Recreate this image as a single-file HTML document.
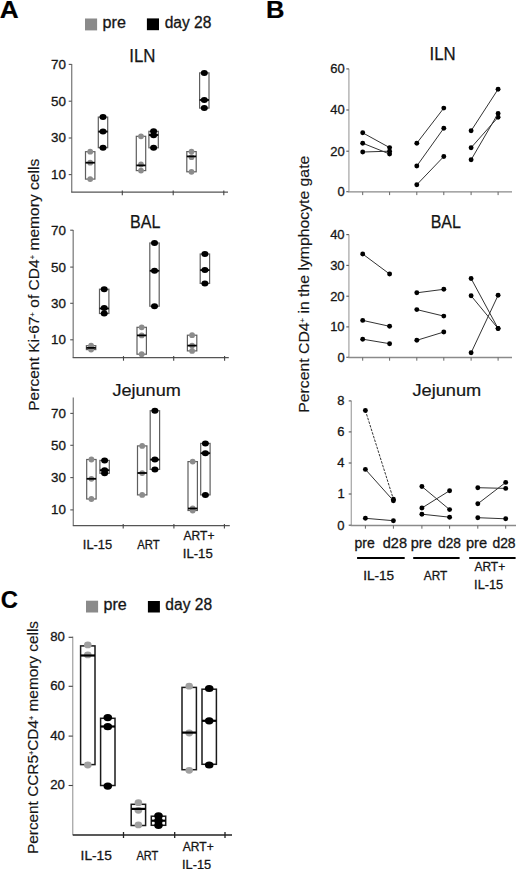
<!DOCTYPE html>
<html><head><meta charset="utf-8"><style>
html,body{margin:0;padding:0;background:#fff;}
svg{display:block;font-family:"Liberation Sans", sans-serif;}
</style></head><body>
<svg width="520" height="869" viewBox="0 0 520 869">
<rect width="520" height="869" fill="#fff"/>
<text x="-0.35" y="17.6" font-size="23.5" font-weight="bold" fill="#000" stroke="#000" stroke-width="0.2" text-anchor="start" textLength="18.94" lengthAdjust="spacingAndGlyphs" >A</text>
<rect x="85" y="18.5" width="12.1" height="11.9" fill="#8a8a8a"/>
<text x="102.56" y="27.5" font-size="15.8" font-weight="normal" fill="#151515" stroke="#151515" stroke-width="0.3" text-anchor="start" textLength="23.36" lengthAdjust="spacingAndGlyphs" >pre</text>
<rect x="146.9" y="18.4" width="12.1" height="11.8" fill="#000"/>
<text x="164.65" y="27.5" font-size="15.8" font-weight="normal" fill="#151515" stroke="#151515" stroke-width="0.3" text-anchor="start" textLength="46.73" lengthAdjust="spacingAndGlyphs" >day 28</text>
<text x="129.24" y="62.3" font-size="17.7" font-weight="normal" fill="#151515" stroke="#151515" stroke-width="0.25" text-anchor="start" textLength="26.23" lengthAdjust="spacingAndGlyphs" >ILN</text>
<line x1="71.7" y1="64" x2="71.7" y2="192.2" stroke="#858585" stroke-width="1.35" />
<line x1="68.7" y1="64.4" x2="71.7" y2="64.4" stroke="#555" stroke-width="1.1" />
<text x="51.12" y="68.82" font-size="13.4" font-weight="normal" fill="#151515" stroke="#151515" stroke-width="0.3" text-anchor="start" >70</text>
<line x1="68.7" y1="101.2" x2="71.7" y2="101.2" stroke="#555" stroke-width="1.1" />
<text x="51.12" y="105.62" font-size="13.4" font-weight="normal" fill="#151515" stroke="#151515" stroke-width="0.3" text-anchor="start" >50</text>
<line x1="68.7" y1="138" x2="71.7" y2="138" stroke="#555" stroke-width="1.1" />
<text x="51.12" y="142.42" font-size="13.4" font-weight="normal" fill="#151515" stroke="#151515" stroke-width="0.3" text-anchor="start" >30</text>
<line x1="68.7" y1="174.6" x2="71.7" y2="174.6" stroke="#555" stroke-width="1.1" />
<text x="51.12" y="179.02" font-size="13.4" font-weight="normal" fill="#151515" stroke="#151515" stroke-width="0.3" text-anchor="start" >10</text>
<line x1="71.2" y1="192.2" x2="228" y2="192.2" stroke="#555" stroke-width="1.3" />
<line x1="122.3" y1="190.6" x2="122.3" y2="195.2" stroke="#444" stroke-width="1.1" />
<line x1="173.2" y1="190.6" x2="173.2" y2="195.2" stroke="#444" stroke-width="1.1" />
<line x1="223.8" y1="190.6" x2="223.8" y2="195.2" stroke="#444" stroke-width="1.1" />
<rect x="85.5" y="151.7" width="9.4" height="27.400000000000006" fill="none" stroke="#5e5e5e" stroke-width="1.2"/>
<ellipse cx="90.2" cy="151.7" rx="2.9" ry="2.9" fill="#8c8c8c"/>
<ellipse cx="90.2" cy="162.7" rx="2.9" ry="2.9" fill="#8c8c8c"/>
<ellipse cx="90.2" cy="179.1" rx="2.9" ry="2.9" fill="#8c8c8c"/>
<line x1="85.5" y1="162.7" x2="94.9" y2="162.7" stroke="#000" stroke-width="1.8" />
<rect x="98.3" y="117.1" width="9.4" height="30.599999999999994" fill="none" stroke="#5e5e5e" stroke-width="1.2"/>
<ellipse cx="103" cy="117.1" rx="3.5" ry="3.0" fill="#000"/>
<ellipse cx="103" cy="131.6" rx="3.5" ry="3.0" fill="#000"/>
<ellipse cx="103" cy="147.7" rx="3.5" ry="3.0" fill="#000"/>
<line x1="98.3" y1="131.6" x2="107.7" y2="131.6" stroke="#000" stroke-width="1.8" />
<rect x="136.3" y="136.3" width="9.4" height="34.29999999999998" fill="none" stroke="#5e5e5e" stroke-width="1.2"/>
<ellipse cx="141" cy="136.3" rx="2.9" ry="2.9" fill="#8c8c8c"/>
<ellipse cx="141" cy="164.5" rx="2.9" ry="2.9" fill="#8c8c8c"/>
<ellipse cx="141" cy="170.6" rx="2.9" ry="2.9" fill="#8c8c8c"/>
<line x1="136.3" y1="165.4" x2="145.7" y2="165.4" stroke="#000" stroke-width="1.8" />
<rect x="148.9" y="131.3" width="9.4" height="16.5" fill="none" stroke="#5e5e5e" stroke-width="1.2"/>
<ellipse cx="153.6" cy="131.3" rx="3.5" ry="3.0" fill="#000"/>
<ellipse cx="153.6" cy="135.3" rx="3.5" ry="3.0" fill="#000"/>
<ellipse cx="153.6" cy="147.8" rx="3.5" ry="3.0" fill="#000"/>
<line x1="148.9" y1="135" x2="158.29999999999998" y2="135" stroke="#000" stroke-width="1.8" />
<rect x="186.8" y="151.6" width="9.4" height="20.200000000000017" fill="none" stroke="#5e5e5e" stroke-width="1.2"/>
<ellipse cx="191.5" cy="151.6" rx="2.9" ry="2.9" fill="#8c8c8c"/>
<ellipse cx="191.5" cy="157.2" rx="2.9" ry="2.9" fill="#8c8c8c"/>
<ellipse cx="191.5" cy="171.8" rx="2.9" ry="2.9" fill="#8c8c8c"/>
<line x1="186.8" y1="156.4" x2="196.2" y2="156.4" stroke="#000" stroke-width="1.8" />
<rect x="199.60000000000002" y="72.9" width="9.4" height="35.19999999999999" fill="none" stroke="#5e5e5e" stroke-width="1.2"/>
<ellipse cx="204.3" cy="72.9" rx="3.5" ry="3.0" fill="#000"/>
<ellipse cx="204.3" cy="100" rx="3.5" ry="3.0" fill="#000"/>
<ellipse cx="204.3" cy="108.1" rx="3.5" ry="3.0" fill="#000"/>
<line x1="199.60000000000002" y1="100" x2="209.0" y2="100" stroke="#000" stroke-width="1.8" />
<text x="129.98" y="228.3" font-size="17.7" font-weight="normal" fill="#151515" stroke="#151515" stroke-width="0.25" text-anchor="start" textLength="30.46" lengthAdjust="spacingAndGlyphs" >BAL</text>
<line x1="73.2" y1="230" x2="73.2" y2="357.7" stroke="#858585" stroke-width="1.35" />
<line x1="70.2" y1="230.2" x2="73.2" y2="230.2" stroke="#555" stroke-width="1.1" />
<text x="51.12" y="234.62" font-size="13.4" font-weight="normal" fill="#151515" stroke="#151515" stroke-width="0.3" text-anchor="start" >70</text>
<line x1="70.2" y1="267.1" x2="73.2" y2="267.1" stroke="#555" stroke-width="1.1" />
<text x="51.12" y="271.52" font-size="13.4" font-weight="normal" fill="#151515" stroke="#151515" stroke-width="0.3" text-anchor="start" >50</text>
<line x1="70.2" y1="303.3" x2="73.2" y2="303.3" stroke="#555" stroke-width="1.1" />
<text x="51.12" y="307.72" font-size="13.4" font-weight="normal" fill="#151515" stroke="#151515" stroke-width="0.3" text-anchor="start" >30</text>
<line x1="70.2" y1="339.8" x2="73.2" y2="339.8" stroke="#555" stroke-width="1.1" />
<text x="51.12" y="344.22" font-size="13.4" font-weight="normal" fill="#151515" stroke="#151515" stroke-width="0.3" text-anchor="start" >10</text>
<line x1="72.7" y1="357.7" x2="228.8" y2="357.7" stroke="#555" stroke-width="1.3" />
<line x1="123.5" y1="356.09999999999997" x2="123.5" y2="360.7" stroke="#444" stroke-width="1.1" />
<line x1="173.7" y1="356.09999999999997" x2="173.7" y2="360.7" stroke="#444" stroke-width="1.1" />
<line x1="224.6" y1="356.09999999999997" x2="224.6" y2="360.7" stroke="#444" stroke-width="1.1" />
<rect x="86.39999999999999" y="345.7" width="9.4" height="3.900000000000034" fill="none" stroke="#5e5e5e" stroke-width="1.2"/>
<ellipse cx="91.1" cy="345.7" rx="2.9" ry="2.9" fill="#8c8c8c"/>
<ellipse cx="91.1" cy="347.9" rx="2.9" ry="2.9" fill="#8c8c8c"/>
<ellipse cx="91.1" cy="349.6" rx="2.9" ry="2.9" fill="#8c8c8c"/>
<line x1="86.39999999999999" y1="347.9" x2="95.8" y2="347.9" stroke="#000" stroke-width="1.8" />
<rect x="99.5" y="289.2" width="9.4" height="24.30000000000001" fill="none" stroke="#5e5e5e" stroke-width="1.2"/>
<ellipse cx="104.2" cy="289.2" rx="3.5" ry="3.0" fill="#000"/>
<ellipse cx="104.2" cy="308" rx="3.5" ry="3.0" fill="#000"/>
<ellipse cx="104.2" cy="313.5" rx="3.5" ry="3.0" fill="#000"/>
<line x1="99.5" y1="308.5" x2="108.9" y2="308.5" stroke="#000" stroke-width="1.8" />
<rect x="137.0" y="327.3" width="9.4" height="26.899999999999977" fill="none" stroke="#5e5e5e" stroke-width="1.2"/>
<ellipse cx="141.7" cy="327.3" rx="2.9" ry="2.9" fill="#8c8c8c"/>
<ellipse cx="141.7" cy="335.4" rx="2.9" ry="2.9" fill="#8c8c8c"/>
<ellipse cx="141.7" cy="354.2" rx="2.9" ry="2.9" fill="#8c8c8c"/>
<line x1="137.0" y1="335.4" x2="146.39999999999998" y2="335.4" stroke="#000" stroke-width="1.8" />
<rect x="149.8" y="243" width="9.4" height="63.19999999999999" fill="none" stroke="#5e5e5e" stroke-width="1.2"/>
<ellipse cx="154.5" cy="243" rx="3.5" ry="3.0" fill="#000"/>
<ellipse cx="154.5" cy="270.8" rx="3.5" ry="3.0" fill="#000"/>
<ellipse cx="154.5" cy="306.2" rx="3.5" ry="3.0" fill="#000"/>
<line x1="149.8" y1="270.8" x2="159.2" y2="270.8" stroke="#000" stroke-width="1.8" />
<rect x="187.4" y="335.2" width="9.4" height="15.699999999999989" fill="none" stroke="#5e5e5e" stroke-width="1.2"/>
<ellipse cx="192.1" cy="335.2" rx="2.9" ry="2.9" fill="#8c8c8c"/>
<ellipse cx="192.1" cy="345.6" rx="2.9" ry="2.9" fill="#8c8c8c"/>
<ellipse cx="192.1" cy="350.9" rx="2.9" ry="2.9" fill="#8c8c8c"/>
<line x1="187.4" y1="345.6" x2="196.79999999999998" y2="345.6" stroke="#000" stroke-width="1.8" />
<rect x="200.20000000000002" y="254" width="9.4" height="29.399999999999977" fill="none" stroke="#5e5e5e" stroke-width="1.2"/>
<ellipse cx="204.9" cy="254" rx="3.5" ry="3.0" fill="#000"/>
<ellipse cx="204.9" cy="270.1" rx="3.5" ry="3.0" fill="#000"/>
<ellipse cx="204.9" cy="283.4" rx="3.5" ry="3.0" fill="#000"/>
<line x1="200.20000000000002" y1="270.1" x2="209.6" y2="270.1" stroke="#000" stroke-width="1.8" />
<text x="112.42" y="396.2" font-size="16.6" font-weight="normal" fill="#151515" stroke="#151515" stroke-width="0.2" text-anchor="start" textLength="68.38" lengthAdjust="spacingAndGlyphs" >Jejunum</text>
<line x1="73.3" y1="397.4" x2="73.3" y2="525.6" stroke="#858585" stroke-width="1.35" />
<line x1="70.3" y1="413.4" x2="73.3" y2="413.4" stroke="#555" stroke-width="1.1" />
<text x="51.12" y="417.82" font-size="13.4" font-weight="normal" fill="#151515" stroke="#151515" stroke-width="0.3" text-anchor="start" >70</text>
<line x1="70.3" y1="445.3" x2="73.3" y2="445.3" stroke="#555" stroke-width="1.1" />
<text x="51.12" y="449.72" font-size="13.4" font-weight="normal" fill="#151515" stroke="#151515" stroke-width="0.3" text-anchor="start" >50</text>
<line x1="70.3" y1="477.6" x2="73.3" y2="477.6" stroke="#555" stroke-width="1.1" />
<text x="51.12" y="482.02" font-size="13.4" font-weight="normal" fill="#151515" stroke="#151515" stroke-width="0.3" text-anchor="start" >30</text>
<line x1="70.3" y1="509.9" x2="73.3" y2="509.9" stroke="#555" stroke-width="1.1" />
<text x="51.12" y="514.32" font-size="13.4" font-weight="normal" fill="#151515" stroke="#151515" stroke-width="0.3" text-anchor="start" >10</text>
<line x1="72.8" y1="525.6" x2="229.8" y2="525.6" stroke="#555" stroke-width="1.3" />
<line x1="123.2" y1="524.0" x2="123.2" y2="528.6" stroke="#444" stroke-width="1.1" />
<line x1="173.9" y1="524.0" x2="173.9" y2="528.6" stroke="#444" stroke-width="1.1" />
<line x1="224.4" y1="524.0" x2="224.4" y2="528.6" stroke="#444" stroke-width="1.1" />
<rect x="86.7" y="459.5" width="9.4" height="39.5" fill="none" stroke="#5e5e5e" stroke-width="1.2"/>
<ellipse cx="91.4" cy="459.5" rx="2.9" ry="2.9" fill="#8c8c8c"/>
<ellipse cx="91.4" cy="478.8" rx="2.9" ry="2.9" fill="#8c8c8c"/>
<ellipse cx="91.4" cy="499.0" rx="2.9" ry="2.9" fill="#8c8c8c"/>
<line x1="86.7" y1="478.8" x2="96.10000000000001" y2="478.8" stroke="#000" stroke-width="1.8" />
<rect x="99.89999999999999" y="460.4" width="9.4" height="12.900000000000034" fill="none" stroke="#5e5e5e" stroke-width="1.2"/>
<ellipse cx="104.6" cy="460.4" rx="3.5" ry="3.0" fill="#000"/>
<ellipse cx="104.6" cy="470.2" rx="3.5" ry="3.0" fill="#000"/>
<ellipse cx="104.6" cy="473.3" rx="3.5" ry="3.0" fill="#000"/>
<line x1="99.89999999999999" y1="470.2" x2="109.3" y2="470.2" stroke="#000" stroke-width="1.8" />
<rect x="137.5" y="445.9" width="9.4" height="49.0" fill="none" stroke="#5e5e5e" stroke-width="1.2"/>
<ellipse cx="142.2" cy="445.9" rx="2.9" ry="2.9" fill="#8c8c8c"/>
<ellipse cx="142.2" cy="473.1" rx="2.9" ry="2.9" fill="#8c8c8c"/>
<ellipse cx="142.2" cy="494.9" rx="2.9" ry="2.9" fill="#8c8c8c"/>
<line x1="137.5" y1="473" x2="146.89999999999998" y2="473" stroke="#000" stroke-width="1.8" />
<rect x="150.20000000000002" y="410.7" width="9.4" height="58.69999999999999" fill="none" stroke="#5e5e5e" stroke-width="1.2"/>
<ellipse cx="154.9" cy="410.7" rx="3.5" ry="3.0" fill="#000"/>
<ellipse cx="154.9" cy="459.6" rx="3.5" ry="3.0" fill="#000"/>
<ellipse cx="154.9" cy="469.4" rx="3.5" ry="3.0" fill="#000"/>
<line x1="150.20000000000002" y1="459.6" x2="159.6" y2="459.6" stroke="#000" stroke-width="1.8" />
<rect x="188.0" y="461.6" width="9.4" height="48.89999999999998" fill="none" stroke="#5e5e5e" stroke-width="1.2"/>
<ellipse cx="192.7" cy="461.6" rx="2.9" ry="2.9" fill="#8c8c8c"/>
<ellipse cx="192.7" cy="508.5" rx="2.9" ry="2.9" fill="#8c8c8c"/>
<ellipse cx="192.7" cy="510.5" rx="2.9" ry="2.9" fill="#8c8c8c"/>
<line x1="188.0" y1="508.5" x2="197.39999999999998" y2="508.5" stroke="#000" stroke-width="1.8" />
<rect x="200.70000000000002" y="443.4" width="9.4" height="51.5" fill="none" stroke="#5e5e5e" stroke-width="1.2"/>
<ellipse cx="205.4" cy="443.4" rx="3.5" ry="3.0" fill="#000"/>
<ellipse cx="205.4" cy="453.2" rx="3.5" ry="3.0" fill="#000"/>
<ellipse cx="205.4" cy="494.9" rx="3.5" ry="3.0" fill="#000"/>
<line x1="200.70000000000002" y1="453.2" x2="210.1" y2="453.2" stroke="#000" stroke-width="1.8" />
<text x="82.81" y="548.6" font-size="13.2" font-weight="normal" fill="#151515" stroke="#151515" stroke-width="0.3" text-anchor="start" textLength="29.43" lengthAdjust="spacingAndGlyphs" >IL-15</text>
<text x="137.28" y="548.7" font-size="13.2" font-weight="normal" fill="#151515" stroke="#151515" stroke-width="0.3" text-anchor="start" textLength="22.38" lengthAdjust="spacingAndGlyphs" >ART</text>
<text x="183.58" y="539.5" font-size="13.2" font-weight="normal" fill="#151515" stroke="#151515" stroke-width="0.3" text-anchor="start" textLength="30.91" lengthAdjust="spacingAndGlyphs" >ART+</text>
<text x="182.79" y="557.7" font-size="13.2" font-weight="normal" fill="#151515" stroke="#151515" stroke-width="0.3" text-anchor="start" textLength="29.97" lengthAdjust="spacingAndGlyphs" >IL-15</text>
<text transform="translate(38.8,410.8) rotate(-90)" x="0" y="0" font-size="15.5" fill="#151515" stroke="#151515" stroke-width="0.15" textLength="252" lengthAdjust="spacingAndGlyphs">Percent Ki-67<tspan font-size="7.5" dy="-4.2">+</tspan><tspan dy="4.2"> of CD4</tspan><tspan font-size="7.5" dy="-4.2">+</tspan><tspan dy="4.2"> memory cells</tspan></text>
<text x="266.09" y="17.9" font-size="23.5" font-weight="bold" fill="#000" stroke="#000" stroke-width="0.2" text-anchor="start" textLength="18.47" lengthAdjust="spacingAndGlyphs" >B</text>
<text x="429.55" y="59.9" font-size="18" font-weight="normal" fill="#151515" stroke="#151515" stroke-width="0.25" text-anchor="start" textLength="26.12" lengthAdjust="spacingAndGlyphs" >ILN</text>
<line x1="348.9" y1="68.7" x2="348.9" y2="191.7" stroke="#aaa" stroke-width="1.3" />
<line x1="346.29999999999995" y1="68.9" x2="348.9" y2="68.9" stroke="#555" stroke-width="1.1" />
<text x="330.35" y="73.28" font-size="13" font-weight="normal" fill="#151515" stroke="#151515" stroke-width="0.3" text-anchor="start" >60</text>
<line x1="346.29999999999995" y1="110" x2="348.9" y2="110" stroke="#555" stroke-width="1.1" />
<text x="330.35" y="114.38" font-size="13" font-weight="normal" fill="#151515" stroke="#151515" stroke-width="0.3" text-anchor="start" >40</text>
<line x1="346.29999999999995" y1="151.2" x2="348.9" y2="151.2" stroke="#555" stroke-width="1.1" />
<text x="330.35" y="155.58" font-size="13" font-weight="normal" fill="#151515" stroke="#151515" stroke-width="0.3" text-anchor="start" >20</text>
<line x1="346.29999999999995" y1="191.7" x2="348.9" y2="191.7" stroke="#555" stroke-width="1.1" />
<text x="337.58" y="196.08" font-size="13" font-weight="normal" fill="#151515" stroke="#151515" stroke-width="0.3" text-anchor="start" >0</text>
<line x1="348.29999999999995" y1="191.9" x2="512" y2="191.9" stroke="#8a8a8a" stroke-width="1.3" />
<line x1="362.7" y1="191.9" x2="362.7" y2="195.1" stroke="#666" stroke-width="1" />
<line x1="389.6" y1="191.9" x2="389.6" y2="195.1" stroke="#666" stroke-width="1" />
<line x1="416.8" y1="191.9" x2="416.8" y2="195.1" stroke="#666" stroke-width="1" />
<line x1="443.8" y1="191.9" x2="443.8" y2="195.1" stroke="#666" stroke-width="1" />
<line x1="471.1" y1="191.9" x2="471.1" y2="195.1" stroke="#666" stroke-width="1" />
<line x1="498.1" y1="191.9" x2="498.1" y2="195.1" stroke="#666" stroke-width="1" />
<line x1="362.7" y1="132.8" x2="389.6" y2="147.6" stroke="#333" stroke-width="1.0" />
<circle cx="362.7" cy="132.8" r="2.45" fill="#000"/>
<circle cx="389.6" cy="147.6" r="2.45" fill="#000"/>
<line x1="362.7" y1="143.2" x2="389.6" y2="154.0" stroke="#333" stroke-width="1.0" />
<circle cx="362.7" cy="143.2" r="2.45" fill="#000"/>
<circle cx="389.6" cy="154.0" r="2.45" fill="#000"/>
<line x1="362.7" y1="152.0" x2="389.6" y2="151.2" stroke="#333" stroke-width="1.0" />
<circle cx="362.7" cy="152.0" r="2.45" fill="#000"/>
<circle cx="389.6" cy="151.2" r="2.45" fill="#000"/>
<line x1="416.8" y1="143.2" x2="443.8" y2="108.1" stroke="#333" stroke-width="1.0" />
<circle cx="416.8" cy="143.2" r="2.45" fill="#000"/>
<circle cx="443.8" cy="108.1" r="2.45" fill="#000"/>
<line x1="416.8" y1="166" x2="443.8" y2="128.2" stroke="#333" stroke-width="1.0" />
<circle cx="416.8" cy="166" r="2.45" fill="#000"/>
<circle cx="443.8" cy="128.2" r="2.45" fill="#000"/>
<line x1="416.8" y1="184.7" x2="443.8" y2="156.5" stroke="#333" stroke-width="1.0" />
<circle cx="416.8" cy="184.7" r="2.45" fill="#000"/>
<circle cx="443.8" cy="156.5" r="2.45" fill="#000"/>
<line x1="471.1" y1="130.8" x2="498.1" y2="89.2" stroke="#333" stroke-width="1.0" />
<circle cx="471.1" cy="130.8" r="2.45" fill="#000"/>
<circle cx="498.1" cy="89.2" r="2.45" fill="#000"/>
<line x1="471.1" y1="147.7" x2="498.1" y2="117.2" stroke="#333" stroke-width="1.0" />
<circle cx="471.1" cy="147.7" r="2.45" fill="#000"/>
<circle cx="498.1" cy="117.2" r="2.45" fill="#000"/>
<line x1="471.1" y1="159.8" x2="498.1" y2="113.4" stroke="#333" stroke-width="1.0" />
<circle cx="471.1" cy="159.8" r="2.45" fill="#000"/>
<circle cx="498.1" cy="113.4" r="2.45" fill="#000"/>
<text x="430.69" y="228.1" font-size="18" font-weight="normal" fill="#151515" stroke="#151515" stroke-width="0.25" text-anchor="start" textLength="30.24" lengthAdjust="spacingAndGlyphs" >BAL</text>
<line x1="348.9" y1="234.6" x2="348.9" y2="357.5" stroke="#aaa" stroke-width="1.3" />
<line x1="346.29999999999995" y1="234.6" x2="348.9" y2="234.6" stroke="#555" stroke-width="1.1" />
<text x="330.15" y="238.98" font-size="13" font-weight="normal" fill="#151515" stroke="#151515" stroke-width="0.3" text-anchor="start" >40</text>
<line x1="346.29999999999995" y1="265.4" x2="348.9" y2="265.4" stroke="#555" stroke-width="1.1" />
<text x="330.15" y="269.78" font-size="13" font-weight="normal" fill="#151515" stroke="#151515" stroke-width="0.3" text-anchor="start" >30</text>
<line x1="346.29999999999995" y1="296.2" x2="348.9" y2="296.2" stroke="#555" stroke-width="1.1" />
<text x="330.15" y="300.58" font-size="13" font-weight="normal" fill="#151515" stroke="#151515" stroke-width="0.3" text-anchor="start" >20</text>
<line x1="346.29999999999995" y1="326.9" x2="348.9" y2="326.9" stroke="#555" stroke-width="1.1" />
<text x="330.15" y="331.28" font-size="13" font-weight="normal" fill="#151515" stroke="#151515" stroke-width="0.3" text-anchor="start" >10</text>
<line x1="346.29999999999995" y1="357.3" x2="348.9" y2="357.3" stroke="#555" stroke-width="1.1" />
<text x="337.38" y="361.68" font-size="13" font-weight="normal" fill="#151515" stroke="#151515" stroke-width="0.3" text-anchor="start" >0</text>
<line x1="348.29999999999995" y1="357.5" x2="512" y2="357.5" stroke="#8a8a8a" stroke-width="1.3" />
<line x1="362.7" y1="357.5" x2="362.7" y2="360.7" stroke="#666" stroke-width="1" />
<line x1="389.6" y1="357.5" x2="389.6" y2="360.7" stroke="#666" stroke-width="1" />
<line x1="416.8" y1="357.5" x2="416.8" y2="360.7" stroke="#666" stroke-width="1" />
<line x1="443.8" y1="357.5" x2="443.8" y2="360.7" stroke="#666" stroke-width="1" />
<line x1="471.1" y1="357.5" x2="471.1" y2="360.7" stroke="#666" stroke-width="1" />
<line x1="498.1" y1="357.5" x2="498.1" y2="360.7" stroke="#666" stroke-width="1" />
<line x1="362.7" y1="254" x2="389.6" y2="274" stroke="#333" stroke-width="1.0" />
<circle cx="362.7" cy="254" r="2.45" fill="#000"/>
<circle cx="389.6" cy="274" r="2.45" fill="#000"/>
<line x1="362.7" y1="320.4" x2="389.6" y2="326.3" stroke="#333" stroke-width="1.0" />
<circle cx="362.7" cy="320.4" r="2.45" fill="#000"/>
<circle cx="389.6" cy="326.3" r="2.45" fill="#000"/>
<line x1="362.7" y1="339.2" x2="389.6" y2="343.7" stroke="#333" stroke-width="1.0" />
<circle cx="362.7" cy="339.2" r="2.45" fill="#000"/>
<circle cx="389.6" cy="343.7" r="2.45" fill="#000"/>
<line x1="416.8" y1="292.8" x2="443.8" y2="289.3" stroke="#333" stroke-width="1.0" />
<circle cx="416.8" cy="292.8" r="2.45" fill="#000"/>
<circle cx="443.8" cy="289.3" r="2.45" fill="#000"/>
<line x1="416.8" y1="309.6" x2="443.8" y2="316.1" stroke="#333" stroke-width="1.0" />
<circle cx="416.8" cy="309.6" r="2.45" fill="#000"/>
<circle cx="443.8" cy="316.1" r="2.45" fill="#000"/>
<line x1="416.8" y1="340.3" x2="443.8" y2="332" stroke="#333" stroke-width="1.0" />
<circle cx="416.8" cy="340.3" r="2.45" fill="#000"/>
<circle cx="443.8" cy="332" r="2.45" fill="#000"/>
<line x1="471.1" y1="278.5" x2="498.1" y2="328.5" stroke="#333" stroke-width="1.0" />
<circle cx="471.1" cy="278.5" r="2.45" fill="#000"/>
<circle cx="498.1" cy="328.5" r="2.45" fill="#000"/>
<line x1="471.1" y1="295.8" x2="498.1" y2="328.5" stroke="#333" stroke-width="1.0" />
<circle cx="471.1" cy="295.8" r="2.45" fill="#000"/>
<circle cx="498.1" cy="328.5" r="2.45" fill="#000"/>
<line x1="471.1" y1="352.8" x2="498.1" y2="295.3" stroke="#333" stroke-width="1.0" />
<circle cx="471.1" cy="352.8" r="2.45" fill="#000"/>
<circle cx="498.1" cy="295.3" r="2.45" fill="#000"/>
<text x="412.42" y="396.2" font-size="16.6" font-weight="normal" fill="#151515" stroke="#151515" stroke-width="0.2" text-anchor="start" textLength="68.89" lengthAdjust="spacingAndGlyphs" >Jejunum</text>
<line x1="351.3" y1="400.7" x2="351.3" y2="525.5" stroke="#aaa" stroke-width="1.3" />
<line x1="348.7" y1="400.9" x2="351.3" y2="400.9" stroke="#555" stroke-width="1.1" />
<text x="337.33" y="405.28" font-size="13" font-weight="normal" fill="#151515" stroke="#151515" stroke-width="0.3" text-anchor="start" >8</text>
<line x1="348.7" y1="431.9" x2="351.3" y2="431.9" stroke="#555" stroke-width="1.1" />
<text x="337.34" y="436.28" font-size="13" font-weight="normal" fill="#151515" stroke="#151515" stroke-width="0.3" text-anchor="start" >6</text>
<line x1="348.7" y1="463" x2="351.3" y2="463" stroke="#555" stroke-width="1.1" />
<text x="337.15" y="467.38" font-size="13" font-weight="normal" fill="#151515" stroke="#151515" stroke-width="0.3" text-anchor="start" >4</text>
<line x1="348.7" y1="494" x2="351.3" y2="494" stroke="#555" stroke-width="1.1" />
<text x="337.4" y="498.38" font-size="13" font-weight="normal" fill="#151515" stroke="#151515" stroke-width="0.3" text-anchor="start" >1</text>
<line x1="348.7" y1="525.2" x2="351.3" y2="525.2" stroke="#555" stroke-width="1.1" />
<text x="337.28" y="529.58" font-size="13" font-weight="normal" fill="#151515" stroke="#151515" stroke-width="0.3" text-anchor="start" >0</text>
<line x1="350.7" y1="525.5" x2="516" y2="525.5" stroke="#8a8a8a" stroke-width="1.3" />
<line x1="365.4" y1="525.5" x2="365.4" y2="528.7" stroke="#666" stroke-width="1" />
<line x1="393.4" y1="525.5" x2="393.4" y2="528.7" stroke="#666" stroke-width="1" />
<line x1="421.9" y1="525.5" x2="421.9" y2="528.7" stroke="#666" stroke-width="1" />
<line x1="449.6" y1="525.5" x2="449.6" y2="528.7" stroke="#666" stroke-width="1" />
<line x1="477.8" y1="525.5" x2="477.8" y2="528.7" stroke="#666" stroke-width="1" />
<line x1="505.7" y1="525.5" x2="505.7" y2="528.7" stroke="#666" stroke-width="1" />
<line x1="365.4" y1="410.5" x2="393.4" y2="499.2" stroke="#333" stroke-width="1.0" stroke-dasharray="2.6,1.2"/>
<circle cx="365.4" cy="410.5" r="2.45" fill="#000"/>
<circle cx="393.4" cy="499.2" r="2.45" fill="#000"/>
<line x1="365.4" y1="469.4" x2="393.4" y2="500.7" stroke="#333" stroke-width="1.0" />
<circle cx="365.4" cy="469.4" r="2.45" fill="#000"/>
<circle cx="393.4" cy="500.7" r="2.45" fill="#000"/>
<line x1="365.4" y1="518.3" x2="393.4" y2="520.7" stroke="#333" stroke-width="1.0" />
<circle cx="365.4" cy="518.3" r="2.45" fill="#000"/>
<circle cx="393.4" cy="520.7" r="2.45" fill="#000"/>
<line x1="421.9" y1="486.5" x2="449.6" y2="509.6" stroke="#333" stroke-width="1.0" />
<circle cx="421.9" cy="486.5" r="2.45" fill="#000"/>
<circle cx="449.6" cy="509.6" r="2.45" fill="#000"/>
<line x1="421.9" y1="508" x2="449.6" y2="490.7" stroke="#333" stroke-width="1.0" />
<circle cx="421.9" cy="508" r="2.45" fill="#000"/>
<circle cx="449.6" cy="490.7" r="2.45" fill="#000"/>
<line x1="421.9" y1="514.2" x2="449.6" y2="517.2" stroke="#333" stroke-width="1.0" />
<circle cx="421.9" cy="514.2" r="2.45" fill="#000"/>
<circle cx="449.6" cy="517.2" r="2.45" fill="#000"/>
<line x1="477.8" y1="487.7" x2="505.7" y2="488.4" stroke="#333" stroke-width="1.0" />
<circle cx="477.8" cy="487.7" r="2.45" fill="#000"/>
<circle cx="505.7" cy="488.4" r="2.45" fill="#000"/>
<line x1="477.8" y1="503.8" x2="505.7" y2="482.4" stroke="#333" stroke-width="1.0" />
<circle cx="477.8" cy="503.8" r="2.45" fill="#000"/>
<circle cx="505.7" cy="482.4" r="2.45" fill="#000"/>
<line x1="477.8" y1="517.7" x2="505.7" y2="518.8" stroke="#333" stroke-width="1.0" />
<circle cx="477.8" cy="517.7" r="2.45" fill="#000"/>
<circle cx="505.7" cy="518.8" r="2.45" fill="#000"/>
<text x="354.5" y="548" font-size="14" font-weight="normal" fill="#151515" stroke="#151515" stroke-width="0.3" text-anchor="start" textLength="20.22" lengthAdjust="spacingAndGlyphs" >pre</text>
<text x="410.66" y="548" font-size="14" font-weight="normal" fill="#151515" stroke="#151515" stroke-width="0.3" text-anchor="start" textLength="21.09" lengthAdjust="spacingAndGlyphs" >pre</text>
<text x="465.96" y="548" font-size="14" font-weight="normal" fill="#151515" stroke="#151515" stroke-width="0.3" text-anchor="start" textLength="21.09" lengthAdjust="spacingAndGlyphs" >pre</text>
<text x="382.79" y="548" font-size="14" font-weight="normal" fill="#151515" stroke="#151515" stroke-width="0.3" text-anchor="start" textLength="24.24" lengthAdjust="spacingAndGlyphs" >d28</text>
<text x="438.02" y="548" font-size="14" font-weight="normal" fill="#151515" stroke="#151515" stroke-width="0.3" text-anchor="start" textLength="22.87" lengthAdjust="spacingAndGlyphs" >d28</text>
<text x="492.42" y="548" font-size="14" font-weight="normal" fill="#151515" stroke="#151515" stroke-width="0.3" text-anchor="start" textLength="23.19" lengthAdjust="spacingAndGlyphs" >d28</text>
<line x1="357.1" y1="558.1" x2="404.7" y2="558.1" stroke="#000" stroke-width="2" />
<line x1="413.2" y1="558.1" x2="459.6" y2="558.1" stroke="#000" stroke-width="2" />
<line x1="469.2" y1="558.1" x2="515.6" y2="558.1" stroke="#000" stroke-width="2" />
<text x="363.15" y="579.6" font-size="13.2" font-weight="normal" fill="#151515" stroke="#151515" stroke-width="0.3" text-anchor="start" textLength="30.92" lengthAdjust="spacingAndGlyphs" >IL-15</text>
<text x="423.78" y="579.7" font-size="13.2" font-weight="normal" fill="#151515" stroke="#151515" stroke-width="0.3" text-anchor="start" textLength="23.49" lengthAdjust="spacingAndGlyphs" >ART</text>
<text x="474.38" y="571" font-size="13.2" font-weight="normal" fill="#151515" stroke="#151515" stroke-width="0.3" text-anchor="start" textLength="30.81" lengthAdjust="spacingAndGlyphs" >ART+</text>
<text x="474.12" y="588.9" font-size="13.2" font-weight="normal" fill="#151515" stroke="#151515" stroke-width="0.3" text-anchor="start" textLength="29.12" lengthAdjust="spacingAndGlyphs" >IL-15</text>
<text transform="translate(309,412.7) rotate(-90)" x="0" y="0" font-size="15.5" fill="#151515" stroke="#151515" stroke-width="0.15" textLength="257" lengthAdjust="spacingAndGlyphs">Percent CD4<tspan font-size="7.5" dy="-4.2">+</tspan><tspan dy="4.2"> in the lymphocyte gate</tspan></text>
<text x="0.72" y="607.5" font-size="23" font-weight="bold" fill="#000" stroke="#000" stroke-width="0.2" text-anchor="start" textLength="17.23" lengthAdjust="spacingAndGlyphs" >C</text>
<rect x="86" y="600.7" width="12.1" height="11.8" fill="#8a8a8a"/>
<text x="103.46" y="609.7" font-size="15.8" font-weight="normal" fill="#151515" stroke="#151515" stroke-width="0.3" text-anchor="start" textLength="23.25" lengthAdjust="spacingAndGlyphs" >pre</text>
<rect x="147.9" y="601" width="12" height="11.5" fill="#000"/>
<text x="165.35" y="609.6" font-size="15.8" font-weight="normal" fill="#151515" stroke="#151515" stroke-width="0.3" text-anchor="start" textLength="46.73" lengthAdjust="spacingAndGlyphs" >day 28</text>
<line x1="72.8" y1="636.6" x2="72.8" y2="835.2" stroke="#8c8c8c" stroke-width="1" />
<line x1="68.6" y1="637.3" x2="72.8" y2="637.3" stroke="#444" stroke-width="1.1" />
<text x="50.23" y="641.15" font-size="13.2" font-weight="normal" fill="#151515" stroke="#151515" stroke-width="0.3" text-anchor="start" >80</text>
<line x1="68.6" y1="686.3" x2="72.8" y2="686.3" stroke="#444" stroke-width="1.1" />
<text x="50.23" y="690.15" font-size="13.2" font-weight="normal" fill="#151515" stroke="#151515" stroke-width="0.3" text-anchor="start" >60</text>
<line x1="68.6" y1="736.1" x2="72.8" y2="736.1" stroke="#444" stroke-width="1.1" />
<text x="50.23" y="739.95" font-size="13.2" font-weight="normal" fill="#151515" stroke="#151515" stroke-width="0.3" text-anchor="start" >40</text>
<line x1="68.6" y1="785.5" x2="72.8" y2="785.5" stroke="#444" stroke-width="1.1" />
<text x="50.23" y="789.35" font-size="13.2" font-weight="normal" fill="#151515" stroke="#151515" stroke-width="0.3" text-anchor="start" >20</text>
<line x1="72.8" y1="835" x2="232" y2="835" stroke="#222" stroke-width="1.3" />
<line x1="123.5" y1="832" x2="123.5" y2="838" stroke="#222" stroke-width="1.3" />
<line x1="174.7" y1="832" x2="174.7" y2="838" stroke="#222" stroke-width="1.3" />
<line x1="225" y1="832" x2="225" y2="838" stroke="#222" stroke-width="1.3" />
<rect x="80.6" y="645.9" width="14.4" height="118.70000000000005" fill="none" stroke="#1a1a1a" stroke-width="1.5"/>
<ellipse cx="87.8" cy="644.9" rx="3.8" ry="3.4" fill="#a0a0a0"/>
<ellipse cx="87.8" cy="654.9" rx="3.8" ry="3.4" fill="#a0a0a0"/>
<ellipse cx="87.8" cy="765" rx="3.8" ry="3.4" fill="#a0a0a0"/>
<line x1="80.6" y1="655.5" x2="95.0" y2="655.5" stroke="#000" stroke-width="2.2" />
<rect x="100.6" y="718.3" width="14.4" height="67.20000000000005" fill="none" stroke="#1a1a1a" stroke-width="1.5"/>
<ellipse cx="107.8" cy="717.6" rx="4.3" ry="3.6" fill="#000"/>
<ellipse cx="107.8" cy="726.7" rx="4.3" ry="3.6" fill="#000"/>
<ellipse cx="107.8" cy="786.1" rx="4.3" ry="3.6" fill="#000"/>
<line x1="100.6" y1="726.5" x2="115.0" y2="726.5" stroke="#000" stroke-width="2.2" />
<rect x="131.20000000000002" y="804.3" width="14.4" height="21.200000000000045" fill="none" stroke="#1a1a1a" stroke-width="1.5"/>
<ellipse cx="138.4" cy="802.7" rx="3.8" ry="3.4" fill="#a0a0a0"/>
<ellipse cx="138.4" cy="810.3" rx="3.8" ry="3.4" fill="#a0a0a0"/>
<ellipse cx="138.4" cy="824.9" rx="3.8" ry="3.4" fill="#a0a0a0"/>
<line x1="131.20000000000002" y1="808.9" x2="145.6" y2="808.9" stroke="#000" stroke-width="2.2" />
<rect x="151.3" y="816.2" width="14.4" height="9.099999999999909" fill="none" stroke="#1a1a1a" stroke-width="1.5"/>
<ellipse cx="158.5" cy="815.8" rx="4.3" ry="3.6" fill="#000"/>
<ellipse cx="158.5" cy="820.7" rx="4.3" ry="3.6" fill="#000"/>
<ellipse cx="158.5" cy="825.3" rx="4.3" ry="3.6" fill="#000"/>
<line x1="151.3" y1="820.7" x2="165.7" y2="820.7" stroke="#000" stroke-width="2.2" />
<rect x="182.0" y="687.4" width="14.4" height="82.30000000000007" fill="none" stroke="#1a1a1a" stroke-width="1.5"/>
<ellipse cx="189.2" cy="686.2" rx="3.8" ry="3.4" fill="#a0a0a0"/>
<ellipse cx="189.2" cy="733" rx="3.8" ry="3.4" fill="#a0a0a0"/>
<ellipse cx="189.2" cy="770.3" rx="3.8" ry="3.4" fill="#a0a0a0"/>
<line x1="182.0" y1="732.6" x2="196.39999999999998" y2="732.6" stroke="#000" stroke-width="2.2" />
<rect x="202.0" y="689.2" width="14.4" height="75.09999999999991" fill="none" stroke="#1a1a1a" stroke-width="1.5"/>
<ellipse cx="209.2" cy="688.5" rx="4.3" ry="3.6" fill="#000"/>
<ellipse cx="209.2" cy="720.8" rx="4.3" ry="3.6" fill="#000"/>
<ellipse cx="209.2" cy="765" rx="4.3" ry="3.6" fill="#000"/>
<line x1="202.0" y1="720.8" x2="216.39999999999998" y2="720.8" stroke="#000" stroke-width="2.2" />
<text x="80.64" y="860" font-size="13.2" font-weight="normal" fill="#151515" stroke="#151515" stroke-width="0.3" text-anchor="start" textLength="31.24" lengthAdjust="spacingAndGlyphs" >IL-15</text>
<text x="136.38" y="860" font-size="13.2" font-weight="normal" fill="#151515" stroke="#151515" stroke-width="0.3" text-anchor="start" textLength="21.87" lengthAdjust="spacingAndGlyphs" >ART</text>
<text x="182.78" y="850.6" font-size="13.2" font-weight="normal" fill="#151515" stroke="#151515" stroke-width="0.3" text-anchor="start" textLength="30.91" lengthAdjust="spacingAndGlyphs" >ART+</text>
<text x="182.02" y="868.9" font-size="13.2" font-weight="normal" fill="#151515" stroke="#151515" stroke-width="0.3" text-anchor="start" textLength="29.12" lengthAdjust="spacingAndGlyphs" >IL-15</text>
<text transform="translate(38.1,854.0) rotate(-90)" x="0" y="0" font-size="15.5" fill="#151515" stroke="#151515" stroke-width="0.15" textLength="233.0" lengthAdjust="spacingAndGlyphs">Percent CCR5<tspan font-size="7.5" dy="-4.2">+</tspan><tspan dy="4.2">CD4</tspan><tspan font-size="7.5" dy="-4.2">+</tspan><tspan dy="4.2"> memory cells</tspan></text>
</svg>
</body></html>
